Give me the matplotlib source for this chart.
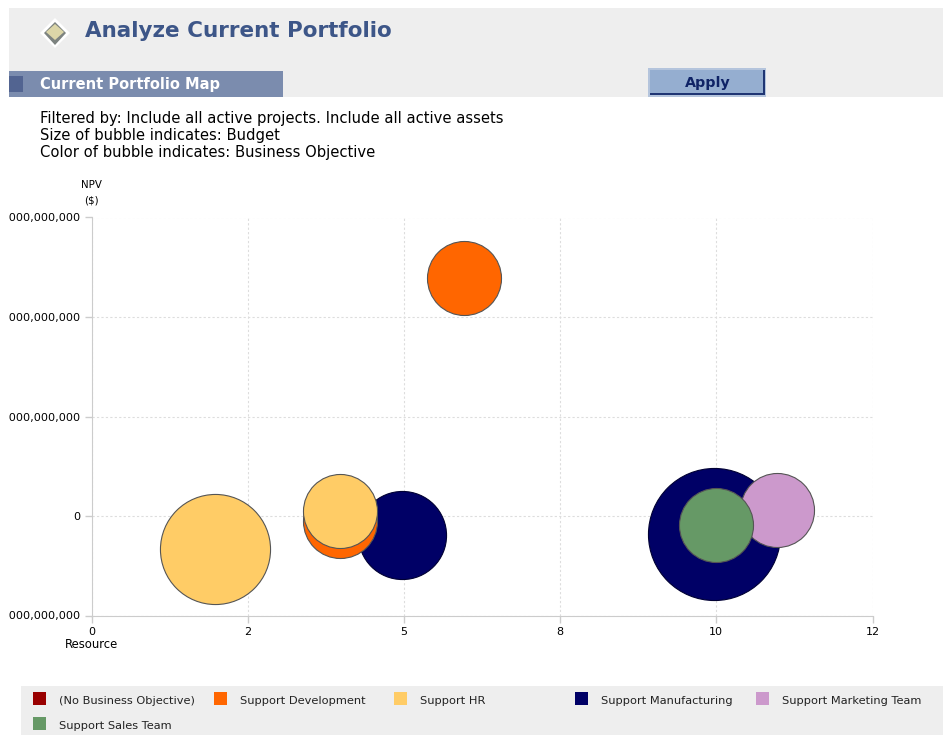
import numpy as np
import matplotlib
matplotlib.use('Agg')
import matplotlib.pyplot as plt
from matplotlib.patches import Rectangle, Polygon
from matplotlib.transforms import Bbox, IdentityTransform, TransformedBbox

# Bubble data, in drawing order (back to front)
resource = [9.96, 4.97, 1.98, 5.96, 3.98, 3.98, 10.97, 9.99]
npv = [-0.18e9, -0.19e9, -0.33e9, 2.39e9, -0.05e9, 0.05e9, 0.06e9, -0.09e9]
budget = [4.36, 1.94, 3.03, 1.37, 1.37, 1.37, 1.37, 1.37]
objective = ['Support Manufacturing', 'Support Manufacturing', 'Support HR', 'Support Development',
             'Support Development', 'Support HR', 'Support Marketing Team', 'Support Sales Team']

# Legend
objectives = ['(No Business Objective)', 'Support Development', 'Support HR',
              'Support Manufacturing', 'Support Marketing Team', 'Support Sales Team']
colors = ['#990000', '#ff6600', '#ffcc66', '#000066', '#cc99cc', '#669966']

x_ticks = [0, 2.5, 5, 7.5, 10, 12.5]
x_labels = ['0', '2', '5', '8', '10', '12']
y_ticks = [-1e9, 0, 1e9, 2e9, 3e9]
y_labels = ['-1,000,000,000', '0', '1,000,000,000', '2,000,000,000', '3,000,000,000']

W, H = 943, 735
fig = plt.figure(figsize=(W / 100, H / 100), dpi=100)
plt.rcParams['font.family'] = 'DejaVu Sans'

# page furniture, in pixel coordinates
page = fig.add_axes([0, 0, 1, 1], zorder=0)
page.set_xlim(0, W)
page.set_ylim(H, 0)
page.axis('off')


def box(x0, y0, x1, y1, color, **kw):
    page.add_patch(Rectangle((x0, y0), x1 - x0, y1 - y0, facecolor=color, edgecolor='none', **kw))


box(9, 8, W, 97, '#eeeeee')
box(9, 71, 283, 97, '#7b8cae')
box(9, 76, 23, 92, '#526491')

# diamond icon
page.add_patch(Polygon([(55, 18), (70, 33), (55, 48), (40, 33)], facecolor='white', edgecolor='none'))
page.add_patch(Polygon([(55, 22), (66, 33), (55, 45), (44, 33)], facecolor='#7d8380', edgecolor='none'))
page.add_patch(Polygon([(55, 24), (64, 32), (55, 40), (46, 32)], facecolor='#dcd6a8', edgecolor='none'))

page.text(85, 31, 'Analyze Current Portfolio', fontsize=15.5, fontweight='bold', color='#3d5688', va='center')
page.text(40, 84, 'Current Portfolio Map', fontsize=10.5, fontweight='bold', color='white', va='center')

# Apply button
box(648, 68, 766, 97, '#b4c4dc')
box(650, 70, 765, 95, '#1f3573')
box(650, 70, 763, 93, '#95aed0')
page.text(708, 83, 'Apply', fontsize=10.3, fontweight='bold', color='#0f2366', ha='center', va='center')

page.text(40, 118, 'Filtered by: Include all active projects. Include all active assets', fontsize=10.65, va='center')
page.text(40, 135, 'Size of bubble indicates: Budget', fontsize=10.65, va='center')
page.text(40, 152, 'Color of bubble indicates: Business Objective', fontsize=10.65, va='center')

page.text(91, 185, 'NPV', fontsize=7.4, ha='center', va='center')
page.text(91, 200, '($)', fontsize=7.4, ha='center', va='center')
page.text(91, 645, 'Resource', fontsize=8.4, ha='center', va='center')

# legend
box(21, 686, W, H, '#eeeeee')
swatch_x = [33, 214, 394, 575, 756, 33]
swatch_y = [692, 692, 692, 692, 692, 717]
for name, col, sx, sy in zip(objectives, colors, swatch_x, swatch_y):
    box(sx, sy, sx + 13, sy + 13, col)
    page.text(sx + 26, sy + 9, name, fontsize=8.2, color='#222222', va='center')

# chart
ax = fig.add_axes([91.5 / W, 1 - 615.5 / H, 781 / W, 398 / H], zorder=1)
ax.patch.set_alpha(0)
ax.set_xlim(0, 12.5)
ax.set_ylim(-1e9, 3e9)
ax.set_xticks(x_ticks, x_labels, fontsize=8)
ax.set_yticks(y_ticks, y_labels, fontsize=8.1)
ax.tick_params(color='#cccccc', length=5, width=1, pad=3)
ax.grid(True, linestyle=(0, (2, 2)), color='#dddddd', linewidth=0.8)
ax.set_axisbelow(True)
for side in ['top', 'right']:
    ax.spines[side].set_visible(False)
for side in ['left', 'bottom']:
    ax.spines[side].set_color('#cccccc')

color_of = dict(zip(objectives, colors))
for i in range(len(budget)):
    edge = '#000033' if objective[i] == 'Support Manufacturing' else '#555555'
    ax.scatter(resource[i], npv[i], s=2074 * budget[i], color=color_of[objective[i]],
               edgecolors=edge, linewidths=0.8, zorder=3 + i, clip_on=False)

# the page cuts the y labels off on the left
keep = TransformedBbox(Bbox([[9, 0], [W, H]]), IdentityTransform())
for lab in ax.get_yticklabels():
    lab.set_clip_box(keep)
    lab.set_clip_on(True)

plt.savefig('out.png', dpi=100)
